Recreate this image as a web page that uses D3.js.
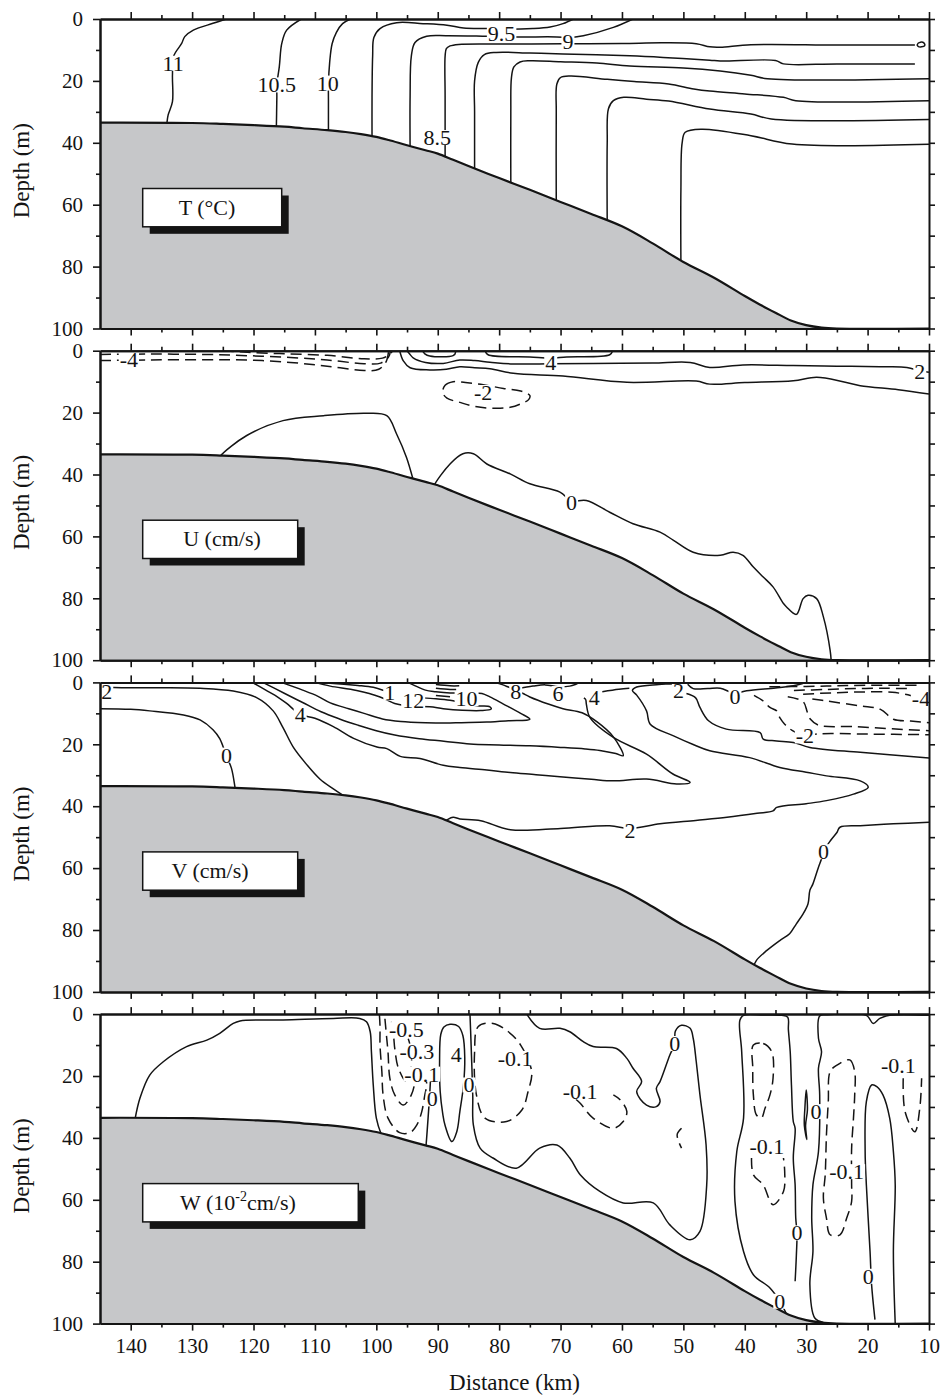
<!DOCTYPE html>
<html><head><meta charset="utf-8">
<script src="https://cdn.jsdelivr.net/npm/d3@7"></script>
<style>body{margin:0;background:#fff} svg{display:block}</style>
</head><body><svg id="c" width="943" height="1396"></svg>
<script>
// ---------- axis values ----------
const xMajor = [140,130,120,110,100,90,80,70,60,50,40,30,20,10];
const xMinor = [135,125,115,105,95,85,75,65,55,45,35,25,15];
const yMajor = [0,20,40,60,80,100];
const yMinor = [10,30,50,70,90];
const yAll = [0,10,20,30,40,50,60,70,80,90,100];

// ---------- bathymetry (km, depth m) ----------
const bathymetry = [[145,33.5],[130,33.6],[125,33.9],[120,34.3],[115,34.8],[112,35.3],[108,35.9],[105,36.5],[102.5,37.2],[100,38.1],[98,39.1],[95,40.8],[92,42.4],[90,43.5],[87.5,45.5],[85,47.5],[80,51.4],[75,55.2],[70,59.1],[65,63],[60,67],[55,72.5],[50,78.5],[45,83.6],[40,89.5],[37.5,92.3],[35,94.9],[32.5,97.4],[30,98.9],[27.5,99.7],[25,100],[10,100]];

// ---------- T panel ----------
const tempLines = [
 {level:11, pts:[[124.4,0],[126.6,1.4],[129.8,3.6],[131.2,5.7],[131.7,7.9],[133.0,12],[133.2,18.1],[133.2,26.7],[133.9,31],[134.1,33.6],[134.2,36]]},
 {level:10.5, pts:[[112.2,0],[114.6,3.6],[115.4,7.9],[115.8,15.4],[116.2,21.3],[116.2,25.1],[116.3,37]]},
 {level:10, pts:[[104.2,0],[105.5,1.5],[106.5,4.3],[107.2,8],[107.6,14],[107.8,21],[107.8,26],[107.8,38]]},
 {level:9.5, pts:[[67.9,0],[69.6,1.5],[71.7,2.6],[74.5,3.1],[79.6,3.3],[82,3.1],[85.8,2.9],[88.5,2.0],[92.4,1.5],[96.7,1.2],[99.4,3.1],[100.4,6],[100.6,12],[100.7,25],[100.7,40]]},
 {level:9, pts:[[58.2,0],[61.4,2.7],[66.3,5.4],[68.8,6.0],[70.6,5.8],[77.2,5.8],[82,5.6],[88.6,5.4],[91.8,5.6],[93.7,7.6],[94.3,12],[94.5,25],[94.5,42]]},
 {level:8.5, pts:[[12.3,8.4],[25,8.4],[39,8.3],[44,9.1],[45.7,9.0],[47.9,8.0],[53.3,7.7],[60,7.9],[69.6,8.0],[78,8.1],[86.6,8.2],[88.0,8.7],[88.6,9.6],[88.8,12],[88.8,25],[88.8,46]]},
 {level:8.5, pts:[[11.9,8.2],[11.4,7.5],[10.8,7.8],[10.7,8.6],[11.2,9.0],[11.8,8.8],[11.9,8.2]]},
 {level:8, pts:[[12.3,14.5],[25,14.5],[33.7,14.5],[35,13.4],[44,13.6],[45.7,13.3],[53.3,12.4],[58.7,11.9],[69.6,11.3],[75,11],[80.5,10.8],[82.4,11.5],[83.4,14],[84,20],[84,30],[84,49]]},
 {level:7.5, pts:[[10,19.3],[36.3,19.3],[39,18.2],[44,16.8],[50,15.8],[58.7,15.2],[64.1,14.2],[70,13.8],[75,13.5],[76.6,13.9],[77.6,15.5],[78,19],[78.1,30],[78.1,54]]},
 {level:7, pts:[[10,26.4],[31.7,26.4],[33.7,25.3],[40,24.2],[45.7,23.3],[48.3,22.6],[52.4,21.0],[58,20.2],[62.4,19.5],[68.4,18.4],[70,18.9],[70.6,21],[70.7,30],[70.7,60]]},
 {level:6.5, pts:[[10,32.5],[35.7,32.3],[39,30.7],[45.7,29.1],[52.4,26.5],[56,25.9],[59.7,25.3],[61.4,26.4],[62.2,29],[62.4,40],[62.4,66]]},
 {level:6, pts:[[10,40.5],[32.3,40.4],[39,37.7],[47,35.6],[49.7,36.6],[50.2,40],[50.4,55],[50.4,79]]}
];
const tempLabels = [[133.1,14.3,"11"],[116.2,21.3,"10.5"],[107.9,20.7,"10"],[79.6,4.6,"9.5"],[68.8,7.2,"9"],[90.1,38.3,"8.5"]];

// ---------- U panel ----------
const uLines = [
 {level:-8, pts:[[125,0],[121,0.5],[115,1.0],[108,1.5],[102,2.6],[99,2.4],[97.7,1.0],[97.4,0]]},
 {level:-6, pts:[[145,1.2],[137,1.1],[128,1.2],[121,1.6],[114,2.2],[108,3.0],[102,4.2],[99.3,4.0],[98.0,2.0],[97.7,0]]},
 {level:-4, pts:[[145,3.2],[137,3.0],[128,2.9],[121,3.0],[114,3.8],[108,5.0],[102,6.4],[99.6,6.0],[98.4,3.5],[98.0,0]]},
 {level:6, pts:[[92.5,0],[92.1,1.0],[91.3,1.7],[87.5,1.6],[87.1,0.6],[87.3,0]]},
 {level:4, pts:[[82.3,0],[81.8,1.3],[75,2.0],[71.6,2.4],[69,2.0],[62,1.3],[61.5,0]]},
 {level:2, pts:[[95,0],[94.6,1.0],[94.0,2.3],[92,3.8],[89.1,4.1],[86.4,3.0],[84,3.2],[81.5,3.7],[77.7,4.3],[72,4.2],[64.7,4.1],[55,4.0],[48.9,3.8],[45.7,5.4],[40.3,4.6],[32.1,4.8],[25,5.0],[18,5.2],[13.6,5.4],[11.5,6.5],[10,7]]},
 {level:0, pts:[[96.2,0],[95.6,3.3],[94.5,5.5],[91.3,6.2],[88.6,6.0],[86.4,5.2],[84,5.5],[81.5,5.8],[77.7,7.3],[69.6,8.2],[59.2,10.2],[47.9,9.8],[45.7,10.8],[40,10.3],[32.1,9.7],[28.3,8.6],[24,10],[21.2,11.3],[15,12.6],[10,14]]},
 {level:-2, pts:[[89.2,13.5],[88.8,11.2],[87.5,10.0],[85.5,10.3],[82.6,11.0],[79.3,12.2],[76.5,13.0],[75.0,14.5],[75.2,15.8],[76.5,17.2],[78.2,18.3],[81,18.6],[84,18.0],[86.4,16.7],[88.5,15.3],[89.2,13.5]]},
 {level:0, pts:[[126,36],[125.5,34.2],[121.1,27.4],[115.2,22.6],[108.6,21],[101.6,20.2],[98.3,21],[96.7,26.9],[95.1,34.4],[94,41.7],[93.7,44]]},
 {level:0, pts:[[91,46],[90.7,43.9],[88,36.6],[85.9,33.3],[84.2,33.3],[82,36.6],[78.2,39.8],[75,43],[70.1,45.7],[68.2,48.5],[65.8,48.4],[62,52.2],[58.2,55.9],[53.8,58.6],[51.6,61.3],[48.4,65.1],[44,66.1],[41.9,65.1],[40.3,66.1],[38.6,69.9],[37,73.1],[35.4,76.3],[33.7,81.7],[33.2,82.8],[31.6,85.2],[30.5,80.1],[29.7,79],[28.3,80.1],[27.2,86],[26.1,96.8],[25.9,101]]}
];
const uLabels = [[140.3,2.9,"-4"],[71.6,3.8,"4"],[82.6,13.5,"-2"],[68.2,49,"0"],[11.5,6.8,"2"]];

// ---------- V panel ----------
const vLines = [
 {level:2, pts:[[145,1.6],[141.5,1.7],[135,1.7],[128.7,1.9],[123.3,2.8],[119.5,4.9],[116.8,9.2],[115.2,14.6],[113.5,21],[111.4,26.4],[109.2,31.2],[107,34.4],[104.8,37.2],[103.5,38.5]]},
 {level:0, pts:[[145,8.5],[140,8.7],[136.9,9.2],[131.4,10.5],[128.7,12.1],[126.6,15.3],[125.5,18.2],[124.4,23.9],[123.6,27.7],[123.0,34.1],[122.9,35.5]]},
 {level:4, pts:[[120.2,0],[118,2.5],[116,4.8],[114.6,6.8],[112.4,10.3],[110,11.6],[107,14.3],[103.7,18.1],[99.9,20.9],[98.3,21.4],[96.1,23.9],[92.9,24.6],[89.1,26.8],[86.4,27.5],[82,28.3],[78.2,29.1],[74,29.8],[70.1,30.5],[65,31.3],[61.4,31.8],[56,31.2],[51.1,32.8],[48.9,32.3],[51.7,29.6],[56,23.2],[61.4,17.8],[65.2,11.4],[65.8,7.0],[65.9,5.6],[66.2,5.0]]},
 {level:14, pts:[[112,0],[107.5,0.3],[103,1.0],[100.5,1.6],[98.8,2.6]]},
 {level:12, pts:[[110,0],[107.5,1.2],[103.2,2.6],[99.4,4.7],[97,6.8],[94.5,7.7],[91.3,7.9],[89.1,8.5],[86,9.0],[83,9.1],[81.3,8.6],[81.5,7.9],[83,7.6],[84.5,7.3],[86.5,6.4],[88,5.8],[90.3,5.3],[92.5,5.0]]},
 {level:10, pts:[[115.5,0],[112,2.5],[109.5,4.5],[107.5,6.6],[104.5,8.5],[102,10],[99,11.8],[96,12.6],[92,13],[88,13.1],[86.4,13],[82,12.8],[78.5,12.4],[75,11.9],[76.5,10],[79.3,7],[81.5,4.7],[82.8,3.6],[84.5,3.4],[88,3.4],[90.3,3.0],[92,2.5],[94,0.8],[95,0]]},
 {level:14, pts:[[90.3,0.7],[88,1.1],[86.5,1.1]]},
 {level:14, pts:[[90.3,1.9],[88,2.3],[87,2.3]]},
 {level:14, pts:[[90.3,4.2],[88,4.6]]},
 {level:8, pts:[[118.5,0],[115,3.5],[112,6.5],[109,9.5],[106,11.8],[103,13.8],[100,15.6],[97,17],[93,18.2],[89,19],[84.75,19.9],[80,20.2],[75,20.5],[70,21],[66,21.5],[63.6,22],[61,23],[59.8,23.7],[61.4,17.6],[64.1,12.7],[66.5,9.8],[69.6,8.5],[72,7.0],[75,4.7],[76.2,3.5],[77.3,2.5],[78.5,1.5],[80,0.4],[81,0]]},
 {level:6, pts:[[77,2.0],[74.5,1.2],[72.5,0.8],[70.4,1.4],[68.5,1.2],[67.5,0.6],[66.8,0]]},
 {level:4, pts:[[63.2,3.0],[60.5,2.2],[58.8,1.9]]},
 {level:2, pts:[[89.5,45.5],[88.6,44.5],[87.5,43.6],[86.4,44.1],[83,44.7],[78.2,47.6],[70,47.2],[62,46.3],[58.7,47.2],[53.8,45.7],[48,44.6],[42.9,43.6],[38,42.3],[35.4,41.5],[34.8,40.4],[30,39.2],[26.7,38.2],[22.3,36.1],[19.9,33.9],[21.2,31.8],[26.7,30.2],[30,29.0],[34.3,27.5],[39.2,24.3],[45.7,22.1],[48.5,20],[51.6,17.3],[55.4,13.5],[56,9.2],[57.6,4.1],[58.3,2.6],[57.6,1.5],[54,0.7],[51.7,0.4],[50.5,0]]},
 {level:0, pts:[[49.5,3.6],[48,5.0],[47.3,8.1],[45.9,12.4],[43,15.1],[37.5,16.2],[37,18.3],[34.8,18.9],[32.1,19.4],[29.4,21],[21.2,22.6],[10,24.4]]},
 {level:0, pts:[[49.3,0.6],[48.4,2.0],[46,2.0],[44,1.9],[41.6,3.5],[39.7,2.7],[35,1.8],[32.1,1.1],[30.5,0.3],[30,0]]},
 {level:-8, pts:[[36,1.4],[30,1.3],[25,1.1],[20,0.9],[14,0.9],[11.5,0.9]]},
 {level:-6, pts:[[32,2.6],[27,2.3],[22,2.0],[17,1.9],[13.5,2.0]]},
 {level:-4, pts:[[30.5,3.8],[26,3.4],[21,3.1],[16,3.2],[13,4.2],[11.5,5.2]]},
 {level:-2, pts:[[33,4.6],[30.5,6.2],[29.8,9.7],[29.3,11.9],[28,13.8],[22,14.3],[16,15],[10,15.6]]},
 {level:-4, pts:[[29,5.4],[26.7,6.0],[21.2,7.6],[17.9,8.7],[15.8,11.9],[13,12.5],[10,13]]},
 {level:-2, pts:[[38.5,4.2],[37,6],[35.9,8.1],[34.8,9.2],[34.3,11.4],[33.5,13.5],[32.3,15.5],[30.2,17.2],[27.8,16.6],[20,16.7],[10,16.9]]},
 {level:0, pts:[[10,45.2],[15.8,45.7],[21.2,46.3],[24.5,46.8],[25,48.5],[26,51],[27.2,54.7],[27.5,57],[28,59.7],[28.9,65.1],[29.4,67.2],[29.7,71.5],[30.5,74.8],[31.6,78],[32.7,81.2],[34.3,83.4],[36.4,86.6],[38.1,89.8],[38.6,92]]}
];
const vLabels = [[143.9,3.1,"2"],[124.4,23.5,"0"],[112.4,10.5,"4"],[97.8,3.4,"1"],[94,5.9,"12"],[85.3,5.2,"10"],[77.3,3.0,"8"],[70.4,3.6,"6"],[64.5,4.8,"4"],[50.8,2.5,"2"],[41.6,4.6,"0"],[11.3,5.1,"-4"],[30.2,17.3,"-2"],[58.7,47.7,"2"],[27.2,54.7,"0"]];

// ---------- W panel ----------
const wLines = [
 {level:0, pts:[[139.3,34],[138.5,27.2],[136.9,19.7],[134.7,15.4],[130.9,10.5],[127.6,8.4],[125.5,6.2],[123.3,3.0],[122.2,2.2],[115.2,1.9],[107,1.4],[102.7,1.4],[101.6,2.5],[101,5.7],[100.8,12.2],[100.5,22.9],[100,33.6],[99.2,38.8]]},
 {level:-0.1, pts:[[99.5,0.2],[99.4,4],[99.4,10],[99.1,18.6],[98.9,26.1],[98.1,33.6],[96.2,38.3],[94.5,38.3],[93.4,35.8],[92.6,31.5],[92.1,26.1],[91.8,22.9],[92.0,19.5]]},
 {level:-0.3, pts:[[98.6,1.5],[98.3,8],[98.1,12.2],[97.8,20.7],[97,26.1],[95.6,29.4],[94.3,26.1],[93.7,21.8],[93.4,16]]},
 {level:-0.5, pts:[[97.6,2.5],[97.2,7],[97,11.1],[96.4,17.5],[95.1,21.8],[94.4,18],[94.3,12],[94.8,8]]},
 {level:0, pts:[[91.1,18],[91.3,25.6],[91.5,31.5],[91.9,42.3],[92.0,44]]},
 {level:0, pts:[[89.5,6.5],[89.7,15],[89.6,25],[89.2,32],[88.8,36],[87.7,41.2],[86.9,38],[86.4,31.5],[85.8,22.9],[85.6,14],[85.9,7],[86.6,4.0],[88,3.3],[89,4.2],[89.5,6.5]]},
 {level:0, pts:[[84.75,0],[84.6,8],[84.3,26.1],[84.2,35.8],[83.1,43.3],[81,46.5],[77.2,49.8],[73.4,43.3],[70.6,42.3],[68.5,46.5],[66.8,51.9],[63.6,57.3],[59.8,61],[54.9,61],[52.2,68.1],[48.9,72.9],[47.3,70.2],[46.2,55.2],[46.3,42.3],[47.3,26.1],[47.9,15.4],[48.4,7.8],[48.9,4.6],[50.3,3.6],[51.3,5.5],[51.4,9.5],[52.2,13.2],[53.8,21.8],[54.4,24],[53.8,28.3],[54.4,29.9],[56,29.4],[57.6,25.1],[56.8,21.8],[58.2,17.5],[59.2,14.3],[60.9,11.1],[64.7,10.5],[66.3,8.9],[68.5,5.7],[70.1,4.6],[73.4,4.6],[75.5,0]]},
 {level:-0.1, pts:[[83.4,4],[81,3],[78.5,5.7],[76.5,10],[74.7,18.6],[75.3,25.1],[76.3,31],[78.8,34.7],[82.3,33.6],[83.7,26.1],[84,12.2],[83.4,4]]},
 {level:-0.1, pts:[[67.5,27.5],[66.8,28.8],[64.7,33.6],[61.4,36.9],[59.8,34.7],[59.2,31.5],[60.3,27.7],[61.4,26.1]]},
 {level:-0.1, pts:[[50.3,36.9],[51,38.8],[50.8,41],[50.3,43.3]]},
 {level:0, pts:[[33.2,96.9],[34.3,92.8],[35.9,88.5],[38.6,84.2],[40.2,76.7],[41.6,60.5],[41.3,44.4],[40.2,33.6],[40.5,12.2],[40.8,2],[40.2,0.4],[37,0.3],[34,0.4],[33.0,1.0],[32.9,5],[32.6,12.2],[32.4,22.9],[32.1,34.7],[31.8,36.9],[32.1,46.5],[31.8,55.2],[31.7,65.9],[31.5,70.7],[31.6,78],[31.8,86.3]]},
 {level:-0.1, pts:[[38.6,10],[37,9.5],[35.6,12.2],[35.4,20.8],[35.9,26.1],[36.7,30.4],[37.3,33.6],[38.1,32.6],[38.6,26.1],[38.7,17.5],[38.6,10]]},
 {level:-0.1, pts:[[38.9,46.5],[38.6,51.9],[37,55.2],[35.4,61.6],[33.7,57.3],[33.5,50.9],[33.7,46.5]]},
 {level:0, pts:[[30.0,24.5],[29.8,31],[30.1,36],[29.9,40.5],[30.3,36],[30.2,30],[30.0,24.5]]},
 {level:0, pts:[[10,0.4],[16.4,0.4],[18,1.4],[19.1,3],[20.2,0.4],[26.7,0.2],[27.8,0.6],[28,7.8],[27.5,12.2],[28,17.5],[27.8,26.1],[28,44.4],[28.9,55.2],[29.1,65.9],[28.9,76.7],[29.4,87.4],[28.6,98.2],[27.2,99.6]]},
 {level:-0.1, pts:[[25,16.5],[22.9,14.8],[22.1,18.6],[22.1,26.1],[22.3,33.6],[22.6,43.3],[22.6,55.2],[22.6,60.5],[23.4,65.9],[24.5,71.3],[26.1,71.3],[26.7,65.9],[27.2,59.4],[26.9,51.9],[26.7,39],[26.4,28.3],[26.1,18.6],[25,16.5]]},
 {level:0, pts:[[18.8,98.7],[19.35,87.4],[19.6,76.7],[20.2,55.2],[20.4,44.4],[20.2,28.3],[19.35,22.9],[18.5,23.4],[17.5,26.1],[16.4,33.6],[15.8,44.4],[15.5,55.2],[15.8,76.7],[15.5,100]]},
 {level:-0.1, pts:[[14.2,20.7],[13.9,31.5],[12.3,38],[11.5,30.4],[11.2,20.7]]}
];
const wLabels = [[95.1,5.0,"-0.5"],[93.4,12.2,"-0.3"],[92.6,19.4,"-0.1"],[87.0,13.2,"4"],[90.9,27.4,"0"],[84.9,22.9,"0"],[77.4,14.3,"-0.1"],[66.8,25.1,"-0.1"],[51.4,9.5,"0"],[36.4,42.8,"-0.1"],[28.4,31.5,"0"],[31.5,70.7,"0"],[34.3,92.8,"0"],[23.4,50.9,"-0.1"],[19.9,84.7,"0"],[15,16.5,"-0.1"]];

const panelTitles = ["T (°C)","U (cm/s)","V (cm/s)","W"];

// ---------- drawing ----------
const FF = "'Liberation Serif','Times New Roman',Times,serif";
const INK = "#141414";
const svg = d3.select("#c");
const X0 = 100, X1 = 929, TOP0 = 19, STEP = 331.7, PH = 309.5;
const x = d3.scaleLinear().domain([145,10]).range([X0,X1]);
const defs = svg.append("defs");

const panels = [
 {lines:tempLines, labels:tempLabels},
 {lines:uLines, labels:uLabels},
 {lines:vLines, labels:vLabels},
 {lines:wLines, labels:wLabels}
];
const boxW = [139, 155, 155, 215.6];
const boxTextCx = [207, 222, 210, 238];

panels.forEach((p,i) => {
  const top = TOP0 + i*STEP;
  const y = d3.scaleLinear().domain([0,100]).range([top, top+PH]);
  defs.append("clipPath").attr("id","cp"+i).append("rect")
    .attr("x",X0).attr("y",top).attr("width",X1-X0).attr("height",PH);
  const g = svg.append("g").attr("clip-path",`url(#cp${i})`);
  const open = d3.line().x(d=>x(d[0])).y(d=>y(d[1])).curve(d3.curveCatmullRom.alpha(0.5));
  const closed = d3.line().x(d=>x(d[0])).y(d=>y(d[1])).curve(d3.curveCatmullRomClosed.alpha(0.5));
  p.lines.forEach(c => {
    const pts = c.pts, f = pts[0], l = pts[pts.length-1];
    const isClosed = pts.length>3 && f[0]===l[0] && f[1]===l[1];
    g.append("path")
      .attr("d", isClosed ? closed(pts.slice(0,-1)) : open(pts))
      .attr("fill","none").attr("stroke",INK).attr("stroke-width",1.5)
      .attr("stroke-linejoin","round")
      .attr("stroke-dasharray", c.level<0 ? "11,6" : null);
  });
  // seafloor
  const area = d3.area().x(d=>x(d[0])).y0(y(100)+2).y1(d=>y(d[1])).curve(d3.curveCatmullRom.alpha(0.5));
  g.append("path").datum(bathymetry).attr("d",area).attr("fill","#c6c7c9");
  g.append("path").datum(bathymetry).attr("d",open).attr("fill","none").attr("stroke",INK).attr("stroke-width",2.2);
  // contour labels
  p.labels.forEach(([km,d,t]) => {
    const lg = g.append("g");
    const r = lg.append("rect").attr("fill","#fff");
    const tx = lg.append("text").attr("x",x(km)).attr("y",y(d)).attr("dy","0.34em")
      .attr("text-anchor","middle").attr("font-family",FF).attr("font-size",22).attr("fill",INK).text(t);
    const w = tx.node().getComputedTextLength();
    r.attr("x",x(km)-w/2-1).attr("y",y(d)-7.5).attr("width",w+2).attr("height",15);
  });

  // title box with shadow
  const bx = 142.7, by = top+169.5, bh = 38.3;
  svg.append("rect").attr("x",bx+7).attr("y",by+7).attr("width",boxW[i]).attr("height",bh).attr("fill",INK);
  svg.append("rect").attr("x",bx).attr("y",by).attr("width",boxW[i]).attr("height",bh)
    .attr("fill","#fff").attr("stroke",INK).attr("stroke-width",1.5);
  const bt = svg.append("text").attr("y",by+bh/2+7).attr("font-family",FF).attr("font-size",22).attr("fill",INK);
  if (i===3) {
    bt.append("tspan").text("W (10");
    bt.append("tspan").attr("font-size",14).attr("dy",-9).text("-2");
    bt.append("tspan").attr("font-size",22).attr("dy",9).text("cm/s)");
  } else bt.text(panelTitles[i]);
  const bw = bt.node().getComputedTextLength();
  bt.attr("x", boxTextCx[i]-bw/2);

  // axes
  const style = s => {
    s.attr("font-family",FF).attr("font-size",21);
    s.select(".domain").attr("stroke",INK).attr("stroke-width",2);
    s.selectAll(".tick line").attr("stroke",INK).attr("stroke-width",1.6);
    s.selectAll(".tick text").attr("fill",INK);
  };
  svg.append("g").attr("transform",`translate(${X0},0)`)
    .call(d3.axisLeft(y).tickValues(yMajor).tickSize(7).tickPadding(10).tickSizeOuter(0)).call(style);
  svg.append("g").attr("transform",`translate(${X0},0)`)
    .call(d3.axisLeft(y).tickValues(yMinor).tickSize(4).tickFormat("").tickSizeOuter(0)).call(style);
  svg.append("g").attr("transform",`translate(${X1},0)`)
    .call(d3.axisRight(y).tickValues(yAll).tickSize(6).tickFormat("").tickSizeOuter(0)).call(style);
  svg.append("g").attr("transform",`translate(0,${top})`)
    .call(d3.axisTop(x).tickValues(xMajor).tickSize(7).tickFormat("").tickSizeOuter(0)).call(style);
  svg.append("g").attr("transform",`translate(0,${top})`)
    .call(d3.axisTop(x).tickValues(xMinor).tickSize(4).tickFormat("").tickSizeOuter(0)).call(style);
  const bMaj = d3.axisBottom(x).tickValues(xMajor).tickSize(7).tickPadding(7).tickSizeOuter(0);
  if (i<3) bMaj.tickFormat("");
  svg.append("g").attr("transform",`translate(0,${top+PH})`).call(bMaj).call(style);
  svg.append("g").attr("transform",`translate(0,${top+PH})`)
    .call(d3.axisBottom(x).tickValues(xMinor).tickSize(4).tickFormat("").tickSizeOuter(0)).call(style);

  // y title
  svg.append("text").attr("transform",`translate(29,${top+PH/2-3}) rotate(-90)`)
    .attr("text-anchor","middle").attr("font-family",FF).attr("font-size",23).attr("fill",INK).text("Depth (m)");
});

svg.append("text").attr("x",(X0+X1)/2).attr("y",1390).attr("text-anchor","middle")
  .attr("font-family",FF).attr("font-size",23).attr("fill",INK).text("Distance (km)");
</script>
</body></html>
